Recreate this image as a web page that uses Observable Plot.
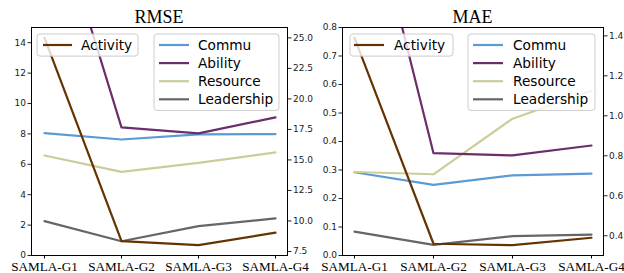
<!DOCTYPE html>
<html>
<head>
<meta charset="utf-8">
<script src="https://cdn.jsdelivr.net/npm/d3@7"></script>
<script src="https://cdn.jsdelivr.net/npm/@observablehq/plot@0.6"></script>
<style>
  html, body { margin: 0; padding: 0; background: #fff; }
  #wrap { position: relative; width: 624px; height: 273px; overflow: hidden; }
  #wrap svg { position: absolute; top: 0; }
</style>
</head>
<body>
<div id="wrap"></div>
<script>
const categories = ["SAMLA-G1", "SAMLA-G2", "SAMLA-G3", "SAMLA-G4"];
const seriesNames = ["Activity", "Commu", "Ability", "Resource", "Leadership"];
const seriesColors = ["#663300", "#5b9bd5", "#6b2d6b", "#cccc99", "#666666"];

// RMSE (Activity on right axis, others on left axis)
const rmseActivity = [25.0, 8.35, 8.02, 9.04];
const rmseCommu = [8.05, 7.63, 7.97, 7.99];
const rmseAbility = [24.9, 8.43, 8.03, 9.09];
const rmseResource = [6.58, 5.5, 6.09, 6.78];
const rmseLeadership = [2.26, 0.94, 1.93, 2.44];
const rmseLeftTicks = [0, 2, 4, 6, 8, 10, 12, 14];
const rmseRightTicks = [7.5, 10.0, 12.5, 15.0, 17.5, 20.0, 22.5, 25.0];

// MAE
const maeActivity = [1.39, 0.36, 0.353, 0.39];
const maeCommu = [0.292, 0.248, 0.281, 0.287];
const maeAbility = [1.47, 0.359, 0.351, 0.386];
const maeResource = [0.293, 0.285, 0.48, 0.577];
const maeLeadership = [0.084, 0.0375, 0.068, 0.073];
const maeLeftTicks = [0.0, 0.1, 0.2, 0.3, 0.4, 0.5, 0.6, 0.7, 0.8];
const maeRightTicks = [0.4, 0.6, 0.8, 1.0, 1.2, 1.4];

const W = 312, H = 273;

function panel(cfg) {
  const [lo, hi] = cfg.leftDomain;
  const amin = d3.min(cfg.activity), amax = d3.max(cfg.activity);
  const pad = (amax - amin) * 0.05;
  const right = d3.scaleLinear().domain([amin - pad, amax + pad]).range([lo, hi]);

  const rows = [];
  const left = {Commu: cfg.commu, Ability: cfg.ability, Resource: cfg.resource, Leadership: cfg.leadership};
  for (const [name, vals] of Object.entries(left)) {
    vals.forEach((v, i) => rows.push({series: name, cat: categories[i], y: v}));
  }
  const actRows = cfg.activity.map((v, i) => ({series: "Activity", cat: categories[i], y: right(v)}));

  const lineOpts = (data) => Plot.line(data, {
    x: "cat", y: "y", z: "series", stroke: "series", strokeWidth: 2.2, clip: true
  });

  const svg = Plot.plot({
    width: W, height: H,
    marginLeft: cfg.ml, marginRight: cfg.mr, marginTop: 27, marginBottom: 18,
    style: {fontFamily: "DejaVu Sans", background: "transparent", overflow: "visible"},
    x: {type: "point", domain: categories, padding: 0.15},
    y: {domain: cfg.leftDomain},
    color: {domain: seriesNames, range: seriesColors},
    marks: [
      Plot.axisY({anchor: "left", ticks: cfg.leftTicks, tickFormat: cfg.leftFmt,
        tickSize: 3.5, tickPadding: 2, fontSize: 9, label: null, color: "#222"}),
      Plot.axisY({anchor: "right", ticks: cfg.rightTicks.map(t => right(t)),
        tickFormat: d => d3.format(".1f")(right.invert(d)),
        tickSize: 3.5, tickPadding: 2, fontSize: 9, label: null, color: "#222"}),
      Plot.axisX({anchor: "bottom", tickSize: 3.5, tickPadding: 2.5, fontSize: 13.2,
        fontFamily: "Liberation Serif", label: null, color: "#000"}),
      lineOpts(rows.filter(r => r.series !== "Ability")),
      lineOpts(rows.filter(r => r.series === "Ability")),
      lineOpts(actRows),
      Plot.frame({stroke: "#000", strokeWidth: 1})
    ]
  });
  svg.style.left = cfg.left + "px";

  const s = d3.select(svg);
  const fx0 = cfg.ml, fx1 = W - cfg.mr;
  s.append("text").attr("x", (fx0 + fx1) / 2).attr("y", 22.5)
    .attr("text-anchor", "middle").attr("font-family", "Liberation Serif")
    .attr("font-size", 18).attr("fill", "#000").text(cfg.title);

  function legend(x0, x1, y0, names, lx0, lx1, tx) {
    const rowH = 18.1;
    s.append("rect").attr("x", x0).attr("y", y0).attr("width", x1 - x0)
      .attr("height", names.length * rowH + 4).attr("rx", 3)
      .attr("fill", "#fff").attr("fill-opacity", 0.8)
      .attr("stroke", "#cccccc").attr("stroke-width", 1);
    names.forEach((n, i) => {
      const cy = y0 + 11 + i * rowH;
      s.append("line").attr("x1", lx0).attr("x2", lx1).attr("y1", cy).attr("y2", cy)
        .attr("stroke", seriesColors[seriesNames.indexOf(n)]).attr("stroke-width", 2.2);
      s.append("text").attr("x", tx).attr("y", cy + 5).attr("font-family", "DejaVu Sans")
        .attr("text-anchor", "start")
        .attr("font-size", 13.7).attr("fill", "#000").text(n);
    });
  }
  legend(cfg.lg1[0], cfg.lg1[1], 34, ["Activity"], cfg.lg1[2], cfg.lg1[3], cfg.lg1[4]);
  legend(cfg.lg2[0], cfg.lg2[1], 34, ["Commu", "Ability", "Resource", "Leadership"],
    cfg.lg2[2], cfg.lg2[3], cfg.lg2[4]);
  document.getElementById("wrap").appendChild(svg);
}

panel({
  title: "RMSE", left: 0, ml: 31, mr: 25,
  leftDomain: [0, 15], leftTicks: rmseLeftTicks, leftFmt: d3.format("d"),
  rightTicks: rmseRightTicks,
  activity: rmseActivity, commu: rmseCommu, ability: rmseAbility,
  resource: rmseResource, leadership: rmseLeadership,
  lg1: [37, 138, 43, 72, 81], lg2: [154, 279, 159, 189, 198]
});
panel({
  title: "MAE", left: 312, ml: 30, mr: 21,
  leftDomain: [0, 0.8], leftTicks: maeLeftTicks, leftFmt: d3.format(".1f"),
  rightTicks: maeRightTicks,
  activity: maeActivity, commu: maeCommu, ability: maeAbility,
  resource: maeResource, leadership: maeLeadership,
  lg1: [38, 141, 42, 72, 82], lg2: [156, 283, 161, 191, 201]
});
</script>
</body>
</html>
